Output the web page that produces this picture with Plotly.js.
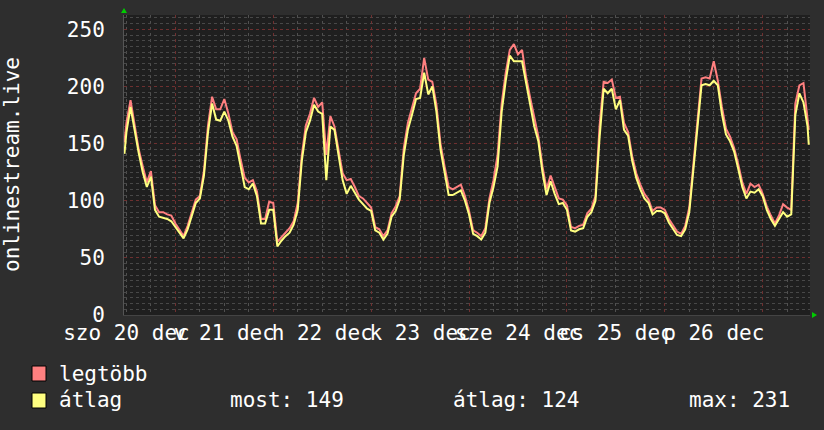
<!DOCTYPE html>
<html>
<head>
<meta charset="utf-8">
<script src="https://cdn.plot.ly/plotly-3.0.1.min.js"></script>
<style>
  html, body { margin: 0; padding: 0; background: #2e2e2e; }
  #chart { width: 824px; height: 430px; }
</style>
</head>
<body>
<div id="chart"></div>
<script>
// ---- data (hours counted from 20 Dec 00:00) ----
const firstHour = 11.5;          // first sample
const lastHour = 179.3;          // last sample
const hourlyFrom = 12, hourlyTo = 179;

// legtöbb (max)
const maxValues = [151,
  168,188,168,145,130,116,126,96,90,90,88,87,
  80,74,69,78,89,101,104,126,166,191,180,180,
  189,176,160,154,136,120,116,118,108,84,84,99,
  98,64,68,72,76,82,98,140,166,176,190,182,
  186,140,174,165,146,124,118,119,112,104,102,98,
  94,77,75,69,74,89,95,104,146,168,180,194,
  198,225,206,204,184,150,130,112,110,112,114,104,
  91,74,72,69,76,102,118,140,185,212,232,237,
  228,232,208,190,172,156,130,110,122,112,102,101,
  96,77,76,78,79,89,93,104,165,204,203,206,
  190,191,168,160,139,124,114,106,101,91,94,94,
  92,84,79,73,71,78,94,132,170,207,208,207,
  222,205,182,163,156,146,132,116,106,115,112,114,
  106,95,87,80,87,97,94,92,185,201,203,175,
  162];

// átlag (average)
const avgValues = [141,
  160,182,160,142,125,112,121,92,86,85,84,82,
  77,71,67,75,86,98,102,122,160,185,171,170,
  178,170,156,148,130,112,110,115,104,80,80,92,
  92,60,65,69,72,79,92,135,160,170,184,178,
  176,118,165,162,140,118,106,113,107,101,97,93,
  91,74,72,66,71,86,91,101,140,162,175,189,
  190,212,193,200,178,145,125,105,105,107,109,100,
  88,71,69,66,72,98,112,130,178,205,227,222,
  222,222,203,184,165,152,125,105,117,106,97,98,
  92,74,73,75,76,86,90,100,155,198,194,198,
  180,188,162,157,135,120,110,102,98,88,91,91,
  89,81,76,70,69,75,90,125,160,201,202,201,
  205,201,176,158,152,143,128,112,102,108,107,110,
  104,92,84,78,84,90,86,88,175,194,186,165,
  149];

const dayLabels = ['szo 20 dec','v 21 dec','h 22 dec','k 23 dec','sze 24 dec','cs 25 dec','p 26 dec'];
const seriesNames = ['legtöbb', 'átlag'];
const seriesColors = ['#ff8080', '#ffff80'];
const statLabels = ['most', 'átlag', 'max'];
const statValues = [149, 124, 231];
const yTitle = 'onlinestream.live';

// ---- build ----
const hours = [firstHour];
for (let h = hourlyFrom; h <= hourlyTo; h++) hours.push(h);
hours.push(lastHour);
const noonTicks = dayLabels.map((_, i) => 12 + 24 * i);

const FONT = 'DejaVu Sans Mono, monospace';
const W = 824, H = 430;
const M = {l: 124, r: 14, t: 15, b: 115};
const PW = W - M.l - M.r, PH = H - M.t - M.b;
const px = x => (x - M.l) / PW;
const py = y => (H - M.b - y) / PH;

const traces = [
  {x: hours, y: maxValues, type: 'scatter', mode: 'lines', name: seriesNames[0],
   line: {color: seriesColors[0], width: 2}, hoverinfo: 'skip'},
  {x: hours, y: avgValues, type: 'scatter', mode: 'lines', name: seriesNames[1],
   line: {color: seriesColors[1], width: 2}, hoverinfo: 'skip'},
  {x: [], y: [], xaxis: 'x2', yaxis: 'y', type: 'scatter', mode: 'lines',
   showlegend: false, hoverinfo: 'skip'}
];

const annotations = [
  {text: yTitle, xref: 'paper', yref: 'paper', x: px(12), y: 0.5,
   xanchor: 'center', yanchor: 'middle', textangle: -90, showarrow: false,
   font: {family: FONT, size: 21, color: '#ffffff'}},
  {text: seriesNames[0], xref: 'paper', yref: 'paper', x: px(57), y: py(374),
   xanchor: 'left', yanchor: 'middle', showarrow: false,
   font: {family: FONT, size: 21, color: '#ffffff'}},
  {text: seriesNames[1], xref: 'paper', yref: 'paper', x: px(57), y: py(400),
   xanchor: 'left', yanchor: 'middle', showarrow: false,
   font: {family: FONT, size: 21, color: '#ffffff'}}
];
const statX = [228, 451, 687];
statLabels.forEach((lab, i) => {
  annotations.push({text: lab + ': ' + statValues[i], xref: 'paper', yref: 'paper',
    x: px(statX[i]), y: py(400), xanchor: 'left', yanchor: 'middle', showarrow: false,
    font: {family: FONT, size: 21, color: '#ffffff'}});
});

const shapes = [
  {type: 'rect', xref: 'paper', yref: 'paper', x0: px(32), x1: px(46), y0: py(366), y1: py(381),
   fillcolor: seriesColors[0], line: {color: '#000000', width: 1}},
  {type: 'rect', xref: 'paper', yref: 'paper', x0: px(32), x1: px(46), y0: py(393), y1: py(408),
   fillcolor: seriesColors[1], line: {color: '#000000', width: 1}},
  // green axis arrows
  {type: 'path', xref: 'paper', yref: 'paper', xsizemode: 'pixel', ysizemode: 'pixel',
   xanchor: 0, yanchor: 1, path: 'M -3 2 L 3 2 L 0 7 Z', fillcolor: '#00cc00', line: {width: 0}},
  {type: 'path', xref: 'paper', yref: 'paper', xsizemode: 'pixel', ysizemode: 'pixel',
   xanchor: 1, yanchor: 0, path: 'M 2 -3 L 2 3 L 7 0 Z', fillcolor: '#00cc00', line: {width: 0}}
];

const layout = {
  width: W, height: H,
  margin: M,
  paper_bgcolor: '#2e2e2e',
  plot_bgcolor: '#1f1f1f',
  showlegend: false,
  font: {family: FONT, size: 21, color: '#ffffff'},
  xaxis: {
    range: [11.4, 179.6], tick0: 0, dtick: 24,
    showgrid: true, gridcolor: '#6e3030', griddash: 'dot', gridwidth: 1,
    showticklabels: false, ticks: '', zeroline: false,
    showline: true, linecolor: '#444444', linewidth: 1,
    minor: {tick0: 0, dtick: 6, showgrid: true, gridcolor: '#505050', griddash: 'dot', gridwidth: 1}
  },
  xaxis2: {
    overlaying: 'x', matches: 'x', anchor: 'y', side: 'bottom',
    tickmode: 'array', tickvals: noonTicks, ticktext: dayLabels,
    tickangle: 0,
    showgrid: false, zeroline: false, ticks: '', showline: false,
    ticklabelstandoff: 3,
    tickfont: {family: FONT, size: 21, color: '#ffffff'}
  },
  yaxis: {
    range: [0, 262.5], tick0: 0, dtick: 50,
    showgrid: true, gridcolor: '#6e3030', griddash: 'dot', gridwidth: 1,
    zeroline: false, ticks: '', ticklabelstandoff: 14,
    showline: true, linecolor: '#555555', linewidth: 1,
    tickfont: {family: FONT, size: 21, color: '#ffffff'},
    minor: {tick0: 0, dtick: 5, showgrid: true, gridcolor: '#484848', griddash: 'dot', gridwidth: 1}
  },
  annotations: annotations,
  shapes: shapes
};

Plotly.newPlot('chart', traces, layout, {staticPlot: true, displayModeBar: false});
</script>
</body>
</html>
